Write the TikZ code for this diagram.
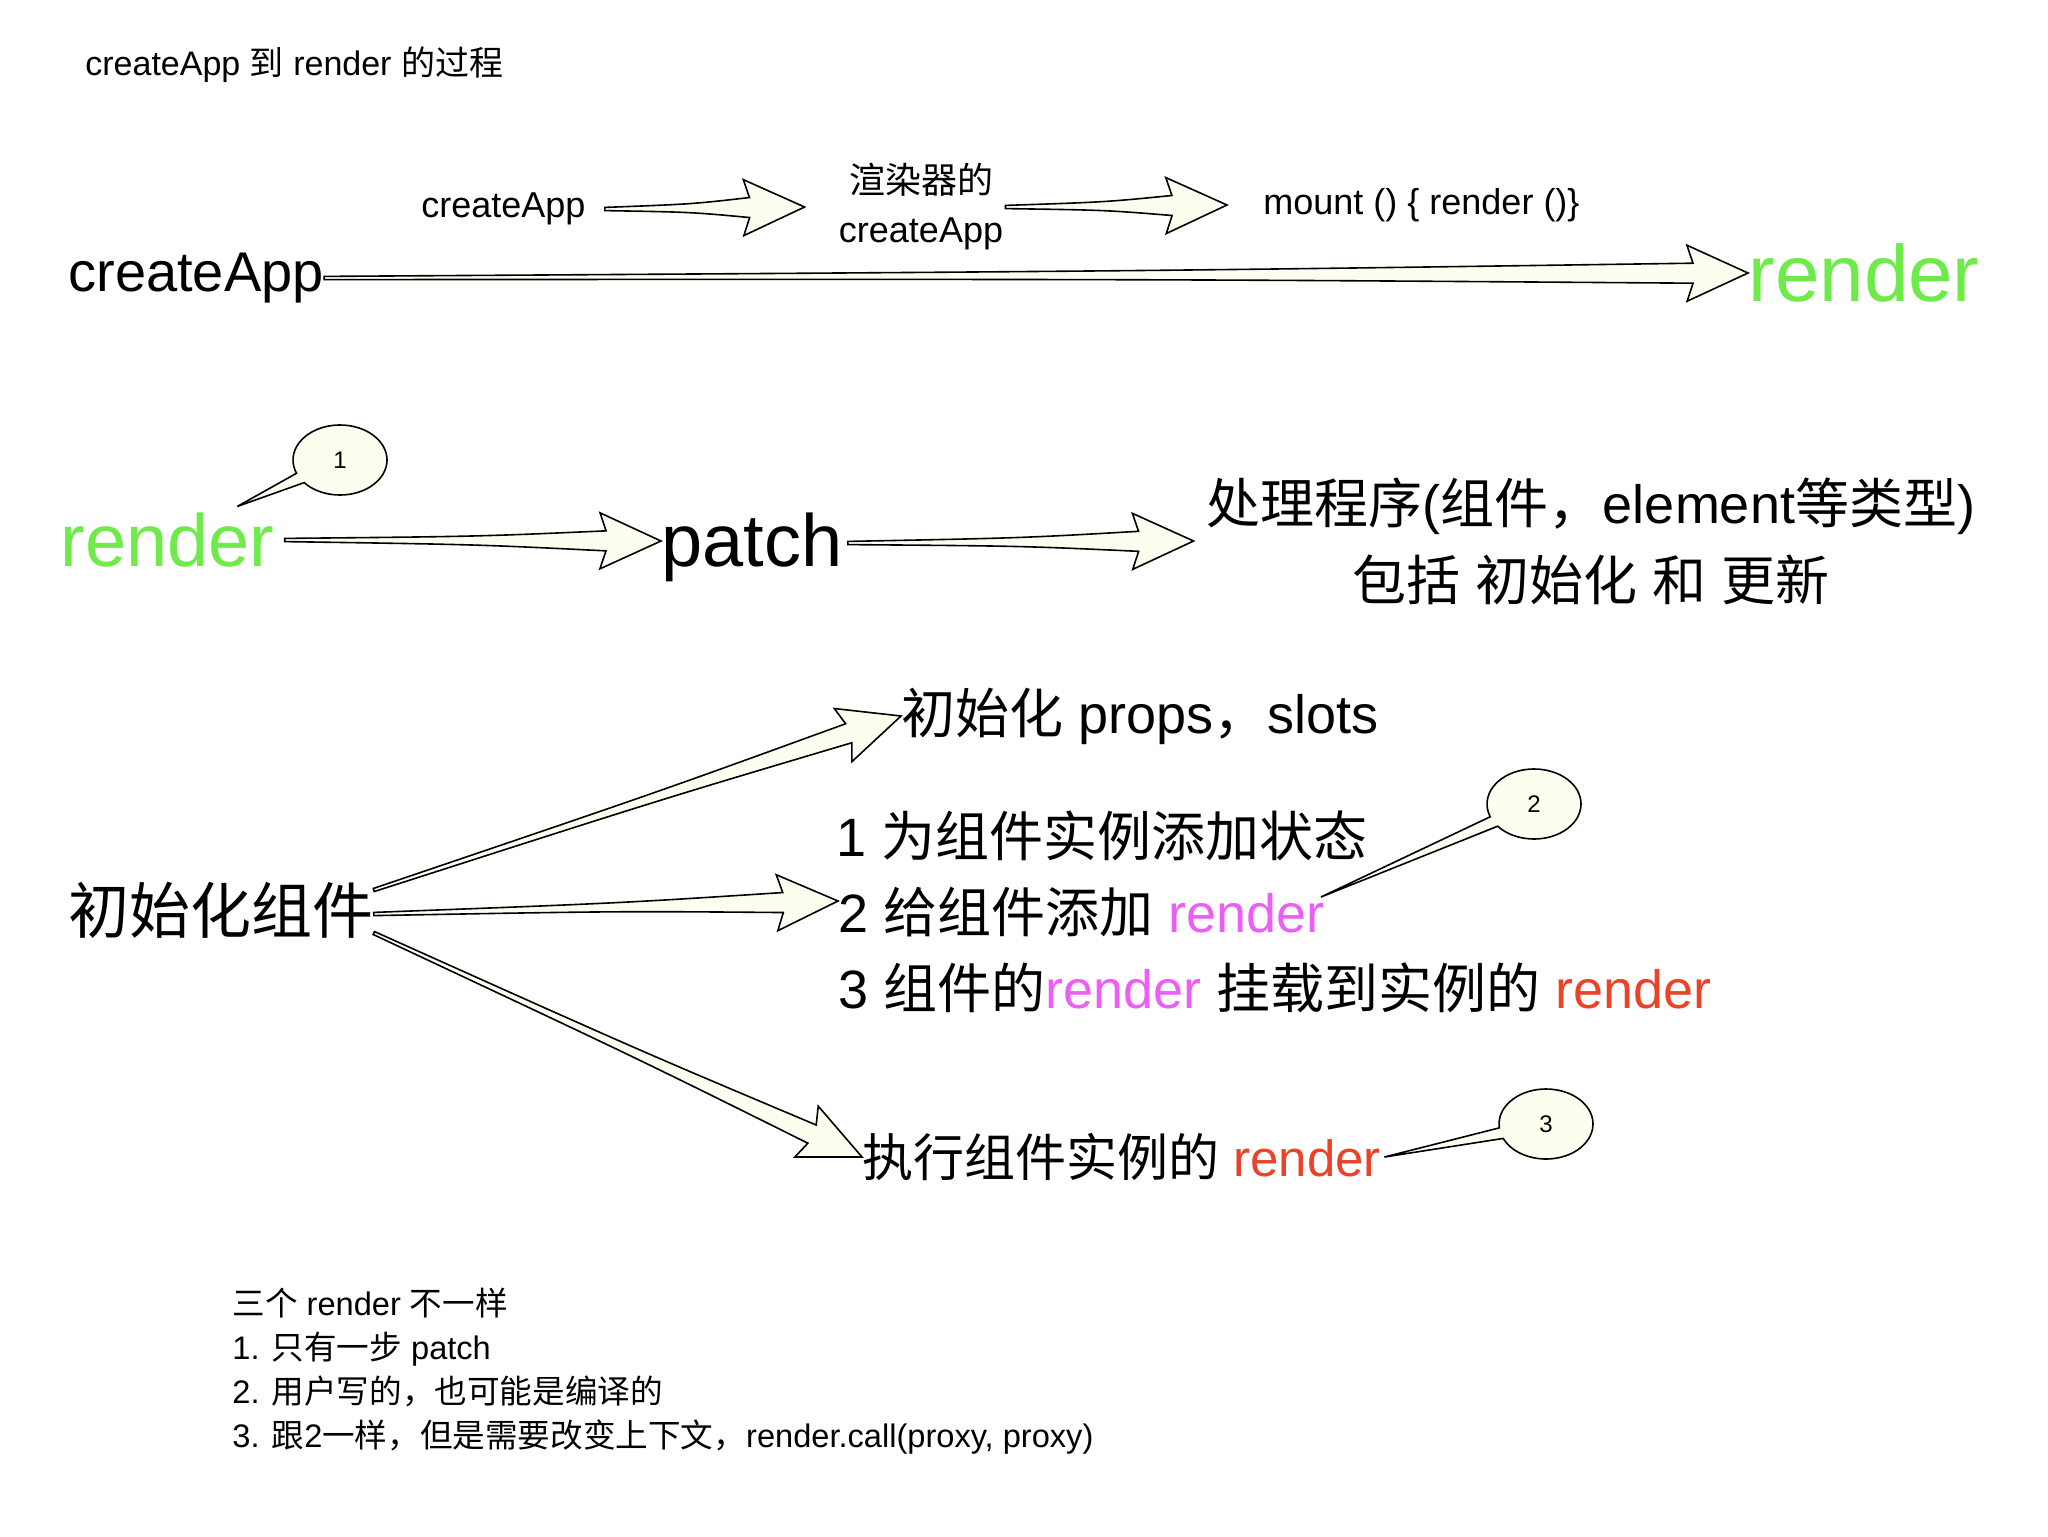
\documentclass[tikz,border=0pt]{standalone}
\usepackage{fontspec}
\setmainfont{Liberation Sans}
\newfontfamily\cjk{Noto Sans CJK SC}
% switch to the CJK font for Chinese characters
\XeTeXinterchartokenstate=1
\newXeTeXintercharclass\cjkcls
\newcount\cjkc
\cjkc="3000 \loop\XeTeXcharclass\cjkc=\cjkcls \advance\cjkc by 1 \ifnum\cjkc<"3040 \repeat
\cjkc="4E00 \loop\XeTeXcharclass\cjkc=\cjkcls \advance\cjkc by 1 \ifnum\cjkc<"A000 \repeat
\cjkc="FF00 \loop\XeTeXcharclass\cjkc=\cjkcls \advance\cjkc by 1 \ifnum\cjkc<"FFF0 \repeat
\XeTeXinterchartoks 0 \cjkcls = {\cjk}
\XeTeXinterchartoks 4095 \cjkcls = {\cjk}
\XeTeXinterchartoks \cjkcls 0 = {\rmfamily}
\XeTeXinterchartoks \cjkcls 4095 = {\rmfamily}
\usetikzlibrary{calc, shapes.callouts}
\definecolor{cream}{RGB}{254,254,240}
\definecolor{rgreen}{RGB}{110,235,75}
\definecolor{rmag}{RGB}{235,95,245}
\definecolor{rred}{RGB}{234,67,40}
\tikzstyle{txt}       = [inner sep=0pt, anchor=west]
\tikzstyle{titletext} = [txt, font=\fontsize{17pt}{22pt}\selectfont]
\tikzstyle{notetext}  = [txt, font=\fontsize{16.3pt}{22pt}\selectfont]
\tikzstyle{midtext}   = [txt, font=\fontsize{18pt}{24.5pt}\selectfont]
\tikzstyle{bigtext}   = [txt, font=\fontsize{28pt}{34pt}\selectfont]
\tikzstyle{largetext} = [txt, font=\fontsize{37pt}{44pt}\selectfont]
\tikzstyle{hugetext}  = [txt, font=\fontsize{40pt}{48pt}\selectfont]
\tikzstyle{cjktext}   = [txt, font=\fontsize{27pt}{38.5pt}\selectfont]
\tikzstyle{runtext}   = [txt, font=\fontsize{25.5pt}{32pt}\selectfont]
\tikzstyle{comptext}  = [txt, font=\fontsize{30.5pt}{36pt}\selectfont]
\tikzstyle{bubble}    = [ellipse callout, draw=black, fill=cream, line width=0.8pt,
                         minimum width=47pt, minimum height=35pt, inner sep=0pt,
                         callout pointer arc=18, font=\fontsize{12pt}{14pt}\selectfont]
\tikzstyle{fatarrow}  = [draw=black, fill=cream, line width=0.8pt]
\newcommand{\fatarrow}[2]{%
  \path[fatarrow] let \p1=(#1), \p2=(#2), \n1={atan2(\y2-\y1,\x2-\x1)},
      \p3=($(\p2)+(\n1+180:27.5pt)$), \p4=($(\p1)!0.6!(\p3)$) in
    ($(\p1)+(\n1+90:0.8pt)$) .. controls ($(\p4)+(\n1+90:2pt)$) .. ($(\p3)+(\n1+90:5pt)$)
    -- ($(\p3)+(\n1+180:3pt)+(\n1+90:14pt)$) -- (\p2)
    -- ($(\p3)+(\n1+180:3pt)+(\n1-90:14pt)$) -- ($(\p3)+(\n1-90:5pt)$)
    .. controls ($(\p4)+(\n1-90:2pt)$) .. ($(\p1)+(\n1-90:0.8pt)$) -- cycle;}

\begin{document}
\begin{tikzpicture}[x=0.5pt, y=-0.5pt]
    \path[use as bounding box, fill=white] (0,0) rectangle (2048,1536);

    \node (title) [titletext] at (85,65) {createApp 到 render 的过程};

    % createApp -> render
    \node (ca) [bigtext] at (68,278) {createApp};
    \node (rg) [hugetext, text=rgreen] at (1748,273) {render};
    \node (sca) [midtext] at (421,209) {createApp};
    \node (rc) [midtext, anchor=center, align=center] at (921,207) {渲染器的\\createApp};
    \node (mt) [midtext] at (1263,205) {mount () \{ render ()\}};

    \fatarrow{ca.east}{rg.west}
    \fatarrow{[xshift=9.5pt]sca.east}{[xshift=-17pt]rc.west}
    \fatarrow{[xshift=1pt]rc.east}{[xshift=-18pt]mt.west}

    % render -> patch
    \node (r2) [largetext, text=rgreen] at (60,540) {render};
    \node (pa) [largetext] at (661,547) {patch};
    \node (pr) [cjktext, anchor=center, align=center] at (1591,541) {处理程序(组件，element等类型)\\包括 初始化 和 更新};

    \fatarrow{[xshift=5pt]r2.east}{[yshift=3pt]pa.west}
    \fatarrow{[xshift=2.5pt,yshift=2pt]pa.east}{[xshift=-6.5pt]pr.west}

    % component init
    \node (cz) [comptext] at (68,910) {初始化组件};
    \node (i1) [cjktext] at (901,716) {初始化 props，slots};
    \node (t1) [cjktext] at (836,836) {1 为组件实例添加状态};
    \node (t2) [cjktext] at (838,912) {2 给组件添加 \textcolor{rmag}{render}};
    \node (t3) [cjktext] at (838,988) {3 组件的\textcolor{rmag}{render} 挂载到实例的 \textcolor{rred}{render}};
    \node (ex) [runtext] at (862,1157) {执行组件实例的 \textcolor{rred}{render}};

    \fatarrow{[yshift=10pt]cz.east}{i1.west}
    \fatarrow{[yshift=-2pt]cz.east}{[yshift=5.5pt]t2.west}
    \fatarrow{[yshift=-11.5pt]cz.east}{ex.west}

    % callouts
    \coordinate (p1) at ([xshift=35pt,yshift=3pt]r2.north);
    \coordinate (p2) at ([xshift=-2pt,yshift=7.5pt]t2.east);
    \coordinate (p3) at ([xshift=1.5pt]ex.east);
    \node (c1) [bubble, callout absolute pointer={(p1)}] at (340,460) {1};
    \node (c2) [bubble, callout absolute pointer={(p2)}] at (1534,804) {2};
    \node (c3) [bubble, callout absolute pointer={(p3)}] at (1546,1124) {3};

    \node (nt) [notetext, align=left] at (232,1371) {三个 render 不一样\\1. 只有一步 patch\\2. 用户写的，也可能是编译的\\3. 跟2一样，但是需要改变上下文，render.call(proxy, proxy)};
\end{tikzpicture}
\end{document}
